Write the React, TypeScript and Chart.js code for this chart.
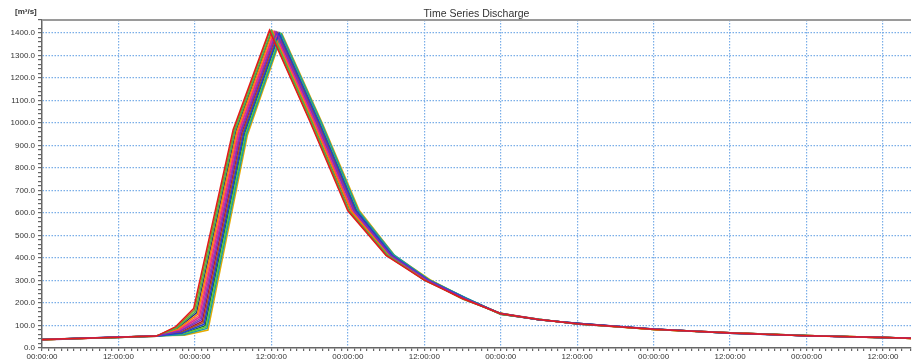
import React, { useEffect, useRef } from 'react';
import { Chart, registerables } from 'chart.js';

Chart.register(...registerables);

const TITLE = 'Time Series Discharge';
const UNIT_LABEL = '[m³/s]';
const X_TICK_LABELS = ['00:00:00', '12:00:00'];
const X_MAX_HOURS = 136.4;
const Y_MAX = 1458;

type P = [number, number];

// ensemble members: [hours since start, discharge m3/s]
const m01: P[] = [[0,38],[12,48],[18,53],[21,95],[23.8,175],[30,970],[35.7,1412],[42,1010],[48,610],[54,412],[60,302],[66,220],[72,152],[78,127],[84,108],[96,83],[108,67],[120,55],[132,47],[137,43]];
const m02: P[] = [[0,37],[12,48],[18,54],[21.1,92],[23.95,169],[30.15,968],[35.8,1411],[42.1,1009],[48.1,612],[54.1,410],[60.1,304],[66,218],[72,154],[78,125],[84,109],[96,82],[108,68],[120,54],[132,48],[137,42]];
const m03: P[] = [[0,39],[12,47],[18,52],[21.2,90],[24.1,162],[30.3,967],[36,1410],[42.3,1008],[48.2,608],[54.2,414],[60.1,300],[66.1,222],[72,150],[78,128],[84,107],[96,84],[108,66],[120,56],[132,46],[137,44]];
const m04: P[] = [[0,38],[12,49],[18,53],[21.3,87],[24.25,156],[30.45,965],[36.1,1408],[42.4,1008],[48.4,611],[54.3,411],[60.2,303],[66.1,219],[72,153],[78,126],[84,110],[96,83],[108,68],[120,55],[132,47],[137,43]];
const m05: P[] = [[0,37],[12,48],[18,54],[21.4,85],[24.4,150],[30.6,964],[36.2,1407],[42.5,1007],[48.5,609],[54.4,413],[60.2,301],[66.2,221],[72,151],[78,127],[84,108],[96,82],[108,67],[120,54],[132,48],[137,42]];
const m06: P[] = [[0,39],[12,48],[18,52],[21.45,82],[24.55,143],[30.75,962],[36.4,1406],[42.7,1006],[48.6,612],[54.45,410],[60.3,304],[66.2,218],[72,154],[78,125],[84,109],[96,84],[108,66],[120,56],[132,47],[137,44]];
const m07: P[] = [[0,38],[12,47],[18,53],[21.55,80],[24.7,137],[30.9,961],[36.5,1405],[42.8,1005],[48.7,608],[54.55,414],[60.35,302],[66.25,220],[72,152],[78,128],[84,107],[96,83],[108,68],[120,55],[132,46],[137,43]];
const m08: P[] = [[0,36],[12,48],[18,54],[21.65,77],[24.85,131],[31.05,959],[36.65,1404],[42.95,1005],[48.85,611],[54.65,411],[60.4,300],[66.3,222],[72,150],[78,126],[84,110],[96,82],[108,67],[120,54],[132,48],[137,42]];
const m09: P[] = [[0,38],[12,49],[18,53],[21.7,75],[25,125],[31.2,958],[36.8,1402],[43.1,1004],[49,609],[54.7,413],[60.5,303],[66.35,219],[72,153],[78,127],[84,108],[96,84],[108,66],[120,55],[132,47],[137,44]];
const m10: P[] = [[0,37],[12,48],[18,52],[21.8,72],[25.15,118],[31.35,956],[36.9,1401],[43.2,1003],[49.1,612],[54.8,410],[60.55,301],[66.4,221],[72,151],[78,125],[84,109],[96,83],[108,68],[120,56],[132,46],[137,43]];
const m11: P[] = [[0,39],[12,47],[18,54],[21.9,70],[25.3,112],[31.5,955],[37.05,1400],[43.35,1002],[49.2,608],[54.9,414],[60.6,304],[66.45,218],[72,154],[78,128],[84,107],[96,82],[108,67],[120,54],[132,48],[137,42]];
const m12: P[] = [[0,38],[12,48],[18,53],[22,67],[25.45,106],[31.65,953],[37.2,1399],[43.5,1002],[49.3,611],[55,411],[60.65,302],[66.5,220],[72,152],[78,126],[84,110],[96,84],[108,66],[120,55],[132,47],[137,44]];
const m13: P[] = [[0,37],[12,49],[18,52],[22.1,64],[25.6,99],[31.8,952],[37.3,1398],[43.6,1001],[49.45,609],[55.1,413],[60.7,300],[66.55,222],[72,150],[78,127],[84,108],[96,83],[108,68],[120,56],[132,46],[137,43]];
const m14: P[] = [[0,38],[12,48],[18,54],[22.15,62],[25.75,93],[31.95,950],[37.45,1396],[43.75,1000],[49.55,612],[55.15,410],[60.8,303],[66.6,219],[72,153],[78,125],[84,109],[96,82],[108,67],[120,54],[132,48],[137,42]];
const m15: P[] = [[0,39],[12,47],[18,53],[22.25,59],[25.9,87],[32.1,949],[37.6,1395],[43.9,999],[49.7,608],[55.25,414],[60.85,301],[66.65,221],[72,151],[78,128],[84,107],[96,84],[108,66],[120,55],[132,47],[137,44]];
const m16: P[] = [[0,37],[12,48],[18,54],[22.35,57],[26.05,80],[32.25,947],[37.7,1394],[44,999],[49.8,611],[55.35,411],[60.9,304],[66.7,218],[72,154],[78,126],[84,110],[96,83],[108,68],[120,56],[132,46],[137,43]];

const MEMBERS: P[][] = [m01, m09, m03, m12, m05, m15, m07, m02, m11, m04, m14, m06, m13, m08, m16, m10];

const COLORS = [
  '#e41a1c', '#7b2fbf', '#4daf4a', '#1f3fd0', '#ff7f00', '#1b9e9e', '#e7298a', '#8c9a1a',
  '#a65628', '#2a2a8a', '#66cc33', '#f06070', '#1a6b3a', '#984ea3', '#e6ab02', '#b2182b',
];

const FONT = '"Liberation Sans", Arial, sans-serif';
const GRID_COLOR = '#7aaee8';

const decorPlugin = {
  id: 'decor',
  afterDraw(chart: any) {
    const { ctx, chartArea } = chart;
    ctx.save();
    ctx.strokeStyle = '#9a9a9a';
    ctx.lineWidth = 2;
    ctx.beginPath();
    ctx.moveTo(chartArea.left, chartArea.top);
    ctx.lineTo(chartArea.right, chartArea.top);
    ctx.stroke();
    ctx.fillStyle = '#333';
    ctx.font = `10.5px ${FONT}`;
    ctx.textAlign = 'center';
    ctx.textBaseline = 'middle';
    ctx.fillText(TITLE, (chartArea.left + chartArea.right) / 2, 14);
    ctx.font = `bold 8px ${FONT}`;
    ctx.textAlign = 'left';
    ctx.fillText(UNIT_LABEL, 15, 12);
    ctx.restore();
  },
};

export default function App() {
  const ref = useRef<HTMLCanvasElement>(null);
  useEffect(() => {
    if (!ref.current) return;
    const chart = new Chart(ref.current, {
      type: 'line',
      data: {
        datasets: MEMBERS.map((m, i) => ({
          data: m.map(([x, y]) => ({ x, y })),
          borderColor: COLORS[i % COLORS.length],
          borderWidth: 1.5,
          pointRadius: 0,
          tension: 0,
          fill: false,
        })),
      },
      options: {
        animation: false,
        responsive: false,
        layout: { padding: { top: 20, left: 0, right: 0, bottom: 0 } },
        plugins: { legend: { display: false }, tooltip: { enabled: false }, title: { display: false } },
        scales: {
          x: {
            type: 'linear',
            min: 0,
            max: X_MAX_HOURS,
            afterFit: (s: any) => { s.height = 13; },
            ticks: {
              stepSize: 1,
              maxTicksLimit: 1000,
              autoSkip: false,
              maxRotation: 0,
              minRotation: 0,
              padding: 1,
              color: '#333',
              font: { size: 8, family: FONT },
              callback: (v: any) => {
                const n = Number(v);
                if (Math.abs(n % 12) > 1e-9) return '';
                return X_TICK_LABELS[(Math.round(n / 12)) % 2];
              },
            },
            grid: {
              color: (c: any) => {
                const v = c.tick ? c.tick.value : 0;
                return v !== 0 && Math.abs(v % 12) < 1e-9 ? GRID_COLOR : 'rgba(0,0,0,0)';
              },
              lineWidth: 1.2,
              tickColor: '#666',
              tickLength: 3,
            },
            border: { display: true, color: '#666', width: 1.5, dash: [1.5, 1.5] },
          },
          y: {
            type: 'linear',
            min: 0,
            max: Y_MAX,
            afterFit: (s: any) => { s.width = 42; },
            ticks: {
              stepSize: 20,
              maxTicksLimit: 1000,
              autoSkip: false,
              padding: 3,
              color: '#333',
              font: { size: 8, family: FONT },
              callback: (v: any) => {
                const n = Number(v);
                return Math.abs(n % 100) < 1e-9 ? n.toFixed(1) : '';
              },
            },
            grid: {
              color: (c: any) => {
                const v = c.tick ? c.tick.value : 0;
                return v !== 0 && Math.abs(v % 100) < 1e-9 ? GRID_COLOR : 'rgba(0,0,0,0)';
              },
              lineWidth: 1.2,
              tickColor: '#666',
              tickLength: 4,
            },
            border: { display: true, color: '#666', width: 1.5, dash: [1.5, 1.5] },
          },
        },
      },
      plugins: [decorPlugin],
    } as any);
    return () => chart.destroy();
  }, []);
  return (
    <div style={{ position: 'fixed', left: 0, top: 0, width: 912, height: 361, background: '#fff' }}>
      <canvas ref={ref} width={912} height={361} />
    </div>
  );
}
